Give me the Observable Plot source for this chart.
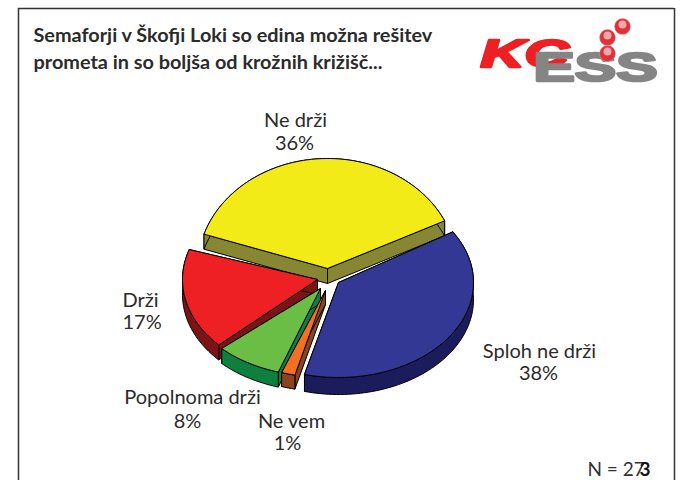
<!DOCTYPE html>
<html><head><meta charset="utf-8">
<script src="https://cdn.jsdelivr.net/npm/d3@7"></script>
<script src="https://cdn.jsdelivr.net/npm/@observablehq/plot@0.6"></script>
<style>html,body{margin:0;padding:0;background:#fff;overflow:hidden}svg{display:block}</style>
</head><body><div id="c"></div>
<script>
// Data
const names = ["Ne drži","Sploh ne drži","Ne vem","Popolnoma drži","Drži"];
const shares = [36,38,1,8,17];
const titleLines = ["Semaforji v Škofji Loki so edina možna rešitev","prometa in so boljša od krožnih križišč..."];

// Styling / layout of each slice (in chart pixels)
const topColors = ["#F3EB17","#323894","#F36F21","#6ABD45","#EE2024"];
const sideColors = ["#878633","#1B1C5C","#8A4520","#0D8040","#7C1416"];
const cxs = [327,338,325,320,317];
const cys = [268,282,290,288,279];
const rxs = [130,135,132,135,135];
const rys = [110,95,87,88,96];
const depth = [15,17,14,15,15];
const drawOrder = [0,4,1,3,2];
const deg = Math.PI/180;
const startAngle = -71.8*deg;
const startTweak = [0,0,-1.2,0,0].map(d=>d*deg);   // foreshortening of the drawn 3-D pie
const endTweak = [6.5,0,1.2,0,0].map(d=>d*deg);

const arcs = d3.pie().sort(null).startAngle(startAngle).endAngle(startAngle+2*Math.PI)(shares);
const pt = (i,a,dy=0)=>[cxs[i]+rxs[i]*Math.sin(a), cys[i]-rys[i]*Math.cos(a)+dy];
const polys = [];
function add(id,fill,pts){ pts=[...pts,pts[0]]; pts.forEach(p=>polys.push({id,fill,x:p[0],y:p[1]})); }
for(const i of drawOrder){
  const a0=arcs[i].startAngle+startTweak[i], a1=arcs[i].endAngle+endTweak[i];
  const n=Math.max(4,Math.ceil((a1-a0)/0.03));
  const arc=d3.range(n+1).map(k=>a0+(a1-a0)*k/n);
  const d=depth[i], c=[cxs[i],cys[i]], cd=[cxs[i],cys[i]+d];
  add(i+"w0",sideColors[i],[c,pt(i,a0),pt(i,a0,d),cd]);
  add(i+"w1",sideColors[i],[c,pt(i,a1),pt(i,a1,d),cd]);
  add(i+"r",sideColors[i],[...arc.map(a=>pt(i,a)),...arc.slice().reverse().map(a=>pt(i,a,d))]);
  add(i+"t",topColors[i],[c,...arc.map(a=>pt(i,a))]);
}

const labelFont="Lato, 'Open Sans', sans-serif";
const centeredLabels=[
 {t:names[0],x:295,y:120},{t:shares[0]+"%",x:294,y:143},
 {t:names[1],x:539,y:351},{t:shares[1]+"%",x:538,y:373},
 {t:names[2],x:291,y:421},{t:shares[2]+"%",x:287,y:443},
 {t:names[3],x:192,y:397},{t:shares[3]+"%",x:187,y:421},
];
const leftLabels=[{t:names[4],x:122,y:300},{t:shares[4]+"%",x:122,y:322}];
const spheres=[{x:622,y:26},{x:607,y:37},{x:607,y:53}];

const chart=Plot.plot({
 width:686,height:480,margin:0,
 x:{domain:[0,686],range:[0,686],axis:null},
 y:{domain:[0,480],range:[0,480],axis:null},
 color:{type:"identity"},
 style:{background:"#fff"},
 marks:[
  Plot.ruleX([18,674],{y1:8,y2:480,stroke:"#333",strokeWidth:1.5}),
  Plot.ruleY([8],{x1:18,x2:674,stroke:"#333",strokeWidth:1.5}),
  Plot.text(titleLines,{x:33,y:(d,i)=>[35,62][i],text:d=>d,textAnchor:"start",fontSize:19.85,fontWeight:700,fontFamily:labelFont,fill:"#2b2b2b"}),
  // logo
  Plot.text(["KC"],{x:480,y:54,text:d=>d,textAnchor:"start",fontSize:39,fontWeight:700,fontStyle:"italic",fontFamily:"Liberation Sans",fill:"#EE2024",stroke:"#EE2024",strokeWidth:2.5}),
  Plot.text(["ESS"],{x:533,y:67.5,text:d=>d,textAnchor:"start",fontSize:40,fontWeight:700,fontFamily:"Liberation Sans",fill:"#858585",stroke:"#858585",strokeWidth:2.5}),
  Plot.dot(spheres,{x:"x",y:"y",r:8,fill:"#E0303A",stroke:"#d9a0a0",strokeWidth:0.5}),
  Plot.dot(spheres,{x:"x",y:d=>d.y-2,r:4,fill:"#F6A6A6"}),
  Plot.line(polys,{x:"x",y:"y",z:"id",fill:"fill",stroke:"#000",strokeWidth:1,strokeLinejoin:"round"}),
  Plot.text(centeredLabels,{x:"x",y:"y",text:"t",textAnchor:"middle",fontSize:20,fontFamily:labelFont,fill:"#2b2b2b"}),
  Plot.text(leftLabels,{x:"x",y:"y",text:"t",textAnchor:"start",fontSize:20,fontFamily:labelFont,fill:"#2b2b2b"}),
  Plot.text(["N = 27"],{x:587,y:469.5,text:d=>d,textAnchor:"start",fontSize:19,fontFamily:labelFont,fill:"#333"}),
  Plot.text(["3"],{x:639,y:469.5,text:d=>d,textAnchor:"start",fontSize:19,fontWeight:700,fontFamily:labelFont,fill:"#111"}),
 ]
});
// stretch the wide logo lettering
chart.querySelectorAll("text").forEach(t=>{
  const s=t.textContent.trim();
  if(s==="KC"||s==="ESS"){ t.setAttribute("textLength",s==="KC"?88:124); t.setAttribute("lengthAdjust","spacingAndGlyphs"); }
});
document.getElementById("c").appendChild(chart);
</script></body></html>
